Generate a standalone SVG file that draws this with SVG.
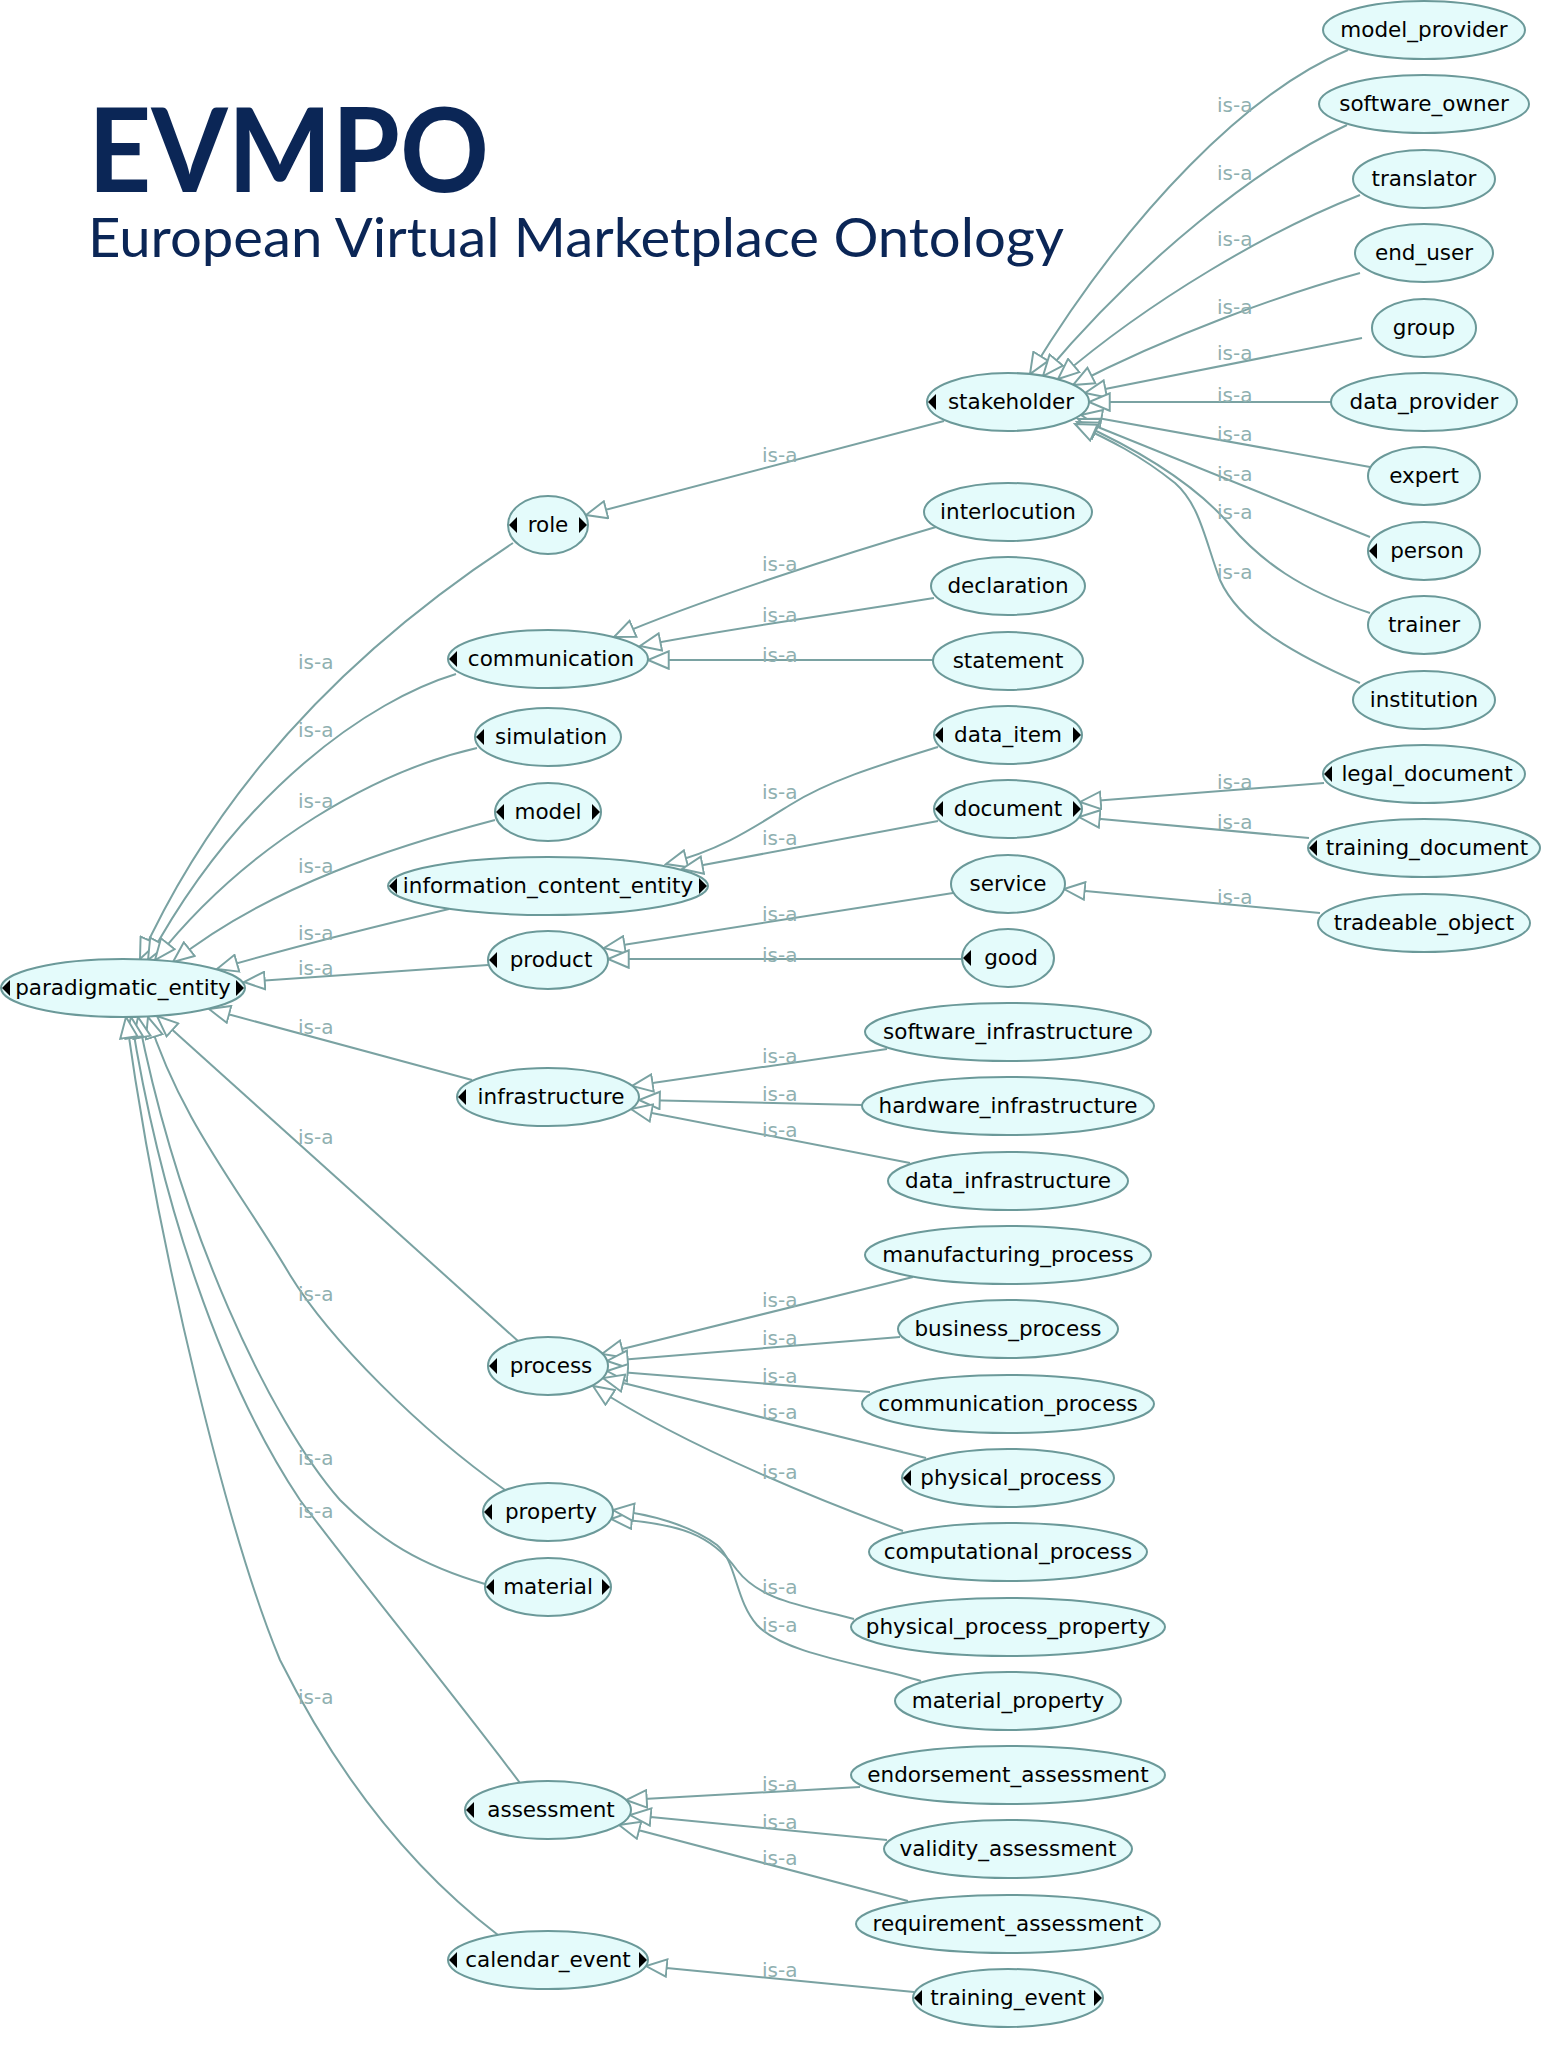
<svg xmlns="http://www.w3.org/2000/svg" xmlns:xlink="http://www.w3.org/1999/xlink" width="1562" height="2048" viewBox="0 0 1562 2048">
<style>
.n ellipse{fill:#e4fbfb;stroke:#6b9999;stroke-width:2}
.n text{font-family:"DejaVu Sans",Verdana,sans-serif;font-size:21.5px;fill:#000;text-anchor:middle}
.t{fill:#000}
.e path{fill:none;stroke:#7aa2a2;stroke-width:2;marker-end:url(#arr)}
.l text{font-family:"DejaVu Sans",Verdana,sans-serif;font-size:20px;fill:#8fb0b0}
.title{font-family:Lato,"Open Sans",sans-serif;fill:#0b2656}
</style>
<defs>
<marker id="arr" markerUnits="userSpaceOnUse" markerWidth="24" markerHeight="20" refX="19" refY="8" orient="auto" viewBox="-1 -1 22 18">
<path d="M0,0 L19,8 L0,16 Z" fill="#fff" stroke="#7aa2a2" stroke-width="1.8"/>
</marker>
<path id="tl" class="t" d="M0,0 L8,-8 L8,8 Z"/>
<path id="tr" class="t" d="M0,0 L-8,-8 L-8,8 Z"/>
</defs>
<rect width="1562" height="2048" fill="#fff"/>
<g id="title">
<text class="title" x="88" y="192" font-size="117" font-weight="700" textLength="401" lengthAdjust="spacingAndGlyphs">EVMPO</text>
<text class="title" x="88" y="257" font-size="55" textLength="976" lengthAdjust="spacingAndGlyphs">European Virtual Marketplace Ontology</text>
</g>
<g id="connectors" class="e">
<path d="M1348,50 C1250,90 1130,210 1030,374"/>
<path d="M1347,125 C1260,165 1140,260 1043,376"/>
<path d="M1360,195 C1270,230 1150,300 1058,379"/>
<path d="M1360,273 C1280,295 1170,335 1073,385"/>
<path d="M1362,338 L1085,393"/>
<path d="M1332,402 L1089,402"/>
<path d="M1370,467 L1081,415"/>
<path d="M1370,537 L1078,419"/>
<path d="M1370,613 C1300,590 1260,560 1230,525 C1200,490 1150,455 1077,422"/>
<path d="M1360,683 C1300,657 1240,625 1220,580 C1205,540 1200,505 1175,483 C1140,455 1110,440 1075,424"/>
<path d="M944,421 L586,515"/>
<path d="M936,527 C850,552 700,600 614,637"/>
<path d="M934,598 C850,612 720,630 640,646"/>
<path d="M933,660 L648,660"/>
<path d="M938,747 C880,765 830,780 790,805 C750,830 720,850 666,864"/>
<path d="M938,821 L682,869"/>
<path d="M953,893 L604,948"/>
<path d="M962,959 L608,959"/>
<path d="M887,1049 L632,1086"/>
<path d="M862,1105 L639,1100"/>
<path d="M910,1163 L631,1109"/>
<path d="M913,1277 L602,1354"/>
<path d="M900,1337 L607,1361"/>
<path d="M870,1392 L607,1371"/>
<path d="M926,1458 L603,1378"/>
<path d="M903,1531 C840,1508 690,1450 593,1386"/>
<path d="M854,1619 C800,1605 760,1600 737,1570 C712,1535 680,1523 611,1519"/>
<path d="M921,1681 C870,1665 785,1655 757,1625 C735,1600 737,1562 717,1545 C690,1525 650,1514 613,1510"/>
<path d="M860,1787 L626,1800"/>
<path d="M887,1840 L630,1815"/>
<path d="M908,1901 L619,1825"/>
<path d="M914,1992 L646,1966"/>
<path d="M1324,783 L1080,802"/>
<path d="M1309,838 L1079,817"/>
<path d="M1320,913 L1064,889"/>
<path d="M513,543 C380,630 230,760 140,959"/>
<path d="M456,674 C370,700 240,790 148,960"/>
<path d="M477,748 C380,770 250,840 155,960"/>
<path d="M495,820 C400,845 270,885 173,962"/>
<path d="M449,909 C360,930 300,945 217,969"/>
<path d="M488,965 L244,982"/>
<path d="M472,1080 L209,1009"/>
<path d="M518,1341 L157,1016"/>
<path d="M505,1490 C420,1430 330,1340 290,1275 C240,1190 180,1120 148,1017"/>
<path d="M485,1584 C420,1565 380,1540 340,1500 C270,1420 180,1230 138,1017"/>
<path d="M520,1783 C450,1690 360,1580 300,1500 C220,1380 160,1200 131,1017"/>
<path d="M498,1935 C400,1860 330,1760 280,1660 C230,1540 160,1260 126,1017"/>
</g>
<g id="edge-labels" class="l">
<text x="1217" y="112">is-a</text><text x="1217" y="180">is-a</text><text x="1217" y="246">is-a</text>
<text x="1217" y="314">is-a</text><text x="1217" y="360">is-a</text><text x="1217" y="402">is-a</text>
<text x="1217" y="441">is-a</text><text x="1217" y="481">is-a</text><text x="1217" y="519">is-a</text>
<text x="1217" y="579">is-a</text><text x="1217" y="789">is-a</text><text x="1217" y="829">is-a</text>
<text x="1217" y="904">is-a</text>
<text x="762" y="462">is-a</text><text x="762" y="571">is-a</text><text x="762" y="622">is-a</text>
<text x="762" y="662">is-a</text><text x="762" y="799">is-a</text><text x="762" y="845">is-a</text>
<text x="762" y="921">is-a</text><text x="762" y="962">is-a</text><text x="762" y="1063">is-a</text>
<text x="762" y="1101">is-a</text><text x="762" y="1137">is-a</text><text x="762" y="1307">is-a</text>
<text x="762" y="1345">is-a</text><text x="762" y="1383">is-a</text><text x="762" y="1419">is-a</text>
<text x="762" y="1479">is-a</text><text x="762" y="1594">is-a</text><text x="762" y="1632">is-a</text>
<text x="762" y="1791">is-a</text><text x="762" y="1829">is-a</text><text x="762" y="1865">is-a</text>
<text x="762" y="1977">is-a</text>
<text x="298" y="669">is-a</text><text x="298" y="737">is-a</text><text x="298" y="808">is-a</text>
<text x="298" y="873">is-a</text><text x="298" y="940">is-a</text><text x="298" y="975">is-a</text>
<text x="298" y="1034">is-a</text><text x="298" y="1144">is-a</text><text x="298" y="1301">is-a</text>
<text x="298" y="1465">is-a</text><text x="298" y="1518">is-a</text><text x="298" y="1704">is-a</text>
</g>
<g id="paradigmatic_entity" class="n"><ellipse cx="123" cy="988" rx="122" ry="29"/><text x="123" y="995">paradigmatic_entity</text><use xlink:href="#tl" x="2" y="988"/><use xlink:href="#tr" x="244" y="988"/></g>
<g id="role" class="n"><ellipse cx="548" cy="525" rx="40" ry="29"/><text x="548" y="532">role</text><use xlink:href="#tl" x="509" y="525"/><use xlink:href="#tr" x="587" y="525"/></g>
<g id="communication" class="n"><ellipse cx="548" cy="659" rx="100" ry="29"/><text x="551" y="666">communication</text><use xlink:href="#tl" x="449" y="659"/></g>
<g id="simulation" class="n"><ellipse cx="548" cy="737" rx="73" ry="29"/><text x="551" y="744">simulation</text><use xlink:href="#tl" x="476" y="737"/></g>
<g id="model" class="n"><ellipse cx="548" cy="812" rx="53" ry="29"/><text x="548" y="819">model</text><use xlink:href="#tl" x="496" y="812"/><use xlink:href="#tr" x="600" y="812"/></g>
<g id="information_content_entity" class="n"><ellipse cx="548" cy="886" rx="160" ry="29"/><text x="548" y="893">information_content_entity</text><use xlink:href="#tl" x="389" y="886"/><use xlink:href="#tr" x="707" y="886"/></g>
<g id="product" class="n"><ellipse cx="548" cy="960" rx="60" ry="29"/><text x="551" y="967">product</text><use xlink:href="#tl" x="489" y="960"/></g>
<g id="infrastructure" class="n"><ellipse cx="548" cy="1097" rx="91" ry="29"/><text x="551" y="1104">infrastructure</text><use xlink:href="#tl" x="458" y="1097"/></g>
<g id="process" class="n"><ellipse cx="548" cy="1366" rx="60" ry="29"/><text x="551" y="1373">process</text><use xlink:href="#tl" x="489" y="1366"/></g>
<g id="property" class="n"><ellipse cx="548" cy="1512" rx="65" ry="29"/><text x="551" y="1519">property</text><use xlink:href="#tl" x="484" y="1512"/></g>
<g id="material" class="n"><ellipse cx="548" cy="1587" rx="63" ry="29"/><text x="548" y="1594">material</text><use xlink:href="#tl" x="486" y="1587"/><use xlink:href="#tr" x="610" y="1587"/></g>
<g id="assessment" class="n"><ellipse cx="548" cy="1810" rx="83" ry="29"/><text x="551" y="1817">assessment</text><use xlink:href="#tl" x="466" y="1810"/></g>
<g id="calendar_event" class="n"><ellipse cx="548" cy="1960" rx="100" ry="29"/><text x="548" y="1967">calendar_event</text><use xlink:href="#tl" x="449" y="1960"/><use xlink:href="#tr" x="647" y="1960"/></g>
<g id="stakeholder" class="n"><ellipse cx="1008" cy="402" rx="81" ry="29"/><text x="1011" y="409">stakeholder</text><use xlink:href="#tl" x="928" y="402"/></g>
<g id="interlocution" class="n"><ellipse cx="1008" cy="512" rx="84" ry="29"/><text x="1008" y="519">interlocution</text></g>
<g id="declaration" class="n"><ellipse cx="1008" cy="586" rx="77" ry="29"/><text x="1008" y="593">declaration</text></g>
<g id="statement" class="n"><ellipse cx="1008" cy="661" rx="75" ry="29"/><text x="1008" y="668">statement</text></g>
<g id="data_item" class="n"><ellipse cx="1008" cy="735" rx="74" ry="29"/><text x="1008" y="742">data_item</text><use xlink:href="#tl" x="935" y="735"/><use xlink:href="#tr" x="1081" y="735"/></g>
<g id="document" class="n"><ellipse cx="1008" cy="809" rx="74" ry="29"/><text x="1008" y="816">document</text><use xlink:href="#tl" x="935" y="809"/><use xlink:href="#tr" x="1081" y="809"/></g>
<g id="service" class="n"><ellipse cx="1008" cy="884" rx="57" ry="29"/><text x="1008" y="891">service</text></g>
<g id="good" class="n"><ellipse cx="1008" cy="958" rx="46" ry="29"/><text x="1011" y="965">good</text><use xlink:href="#tl" x="963" y="958"/></g>
<g id="software_infrastructure" class="n"><ellipse cx="1008" cy="1032" rx="143" ry="29"/><text x="1008" y="1039">software_infrastructure</text></g>
<g id="hardware_infrastructure" class="n"><ellipse cx="1008" cy="1106" rx="146" ry="29"/><text x="1008" y="1113">hardware_infrastructure</text></g>
<g id="data_infrastructure" class="n"><ellipse cx="1008" cy="1181" rx="120" ry="29"/><text x="1008" y="1188">data_infrastructure</text></g>
<g id="manufacturing_process" class="n"><ellipse cx="1008" cy="1255" rx="143" ry="29"/><text x="1008" y="1262">manufacturing_process</text></g>
<g id="business_process" class="n"><ellipse cx="1008" cy="1329" rx="110" ry="29"/><text x="1008" y="1336">business_process</text></g>
<g id="communication_process" class="n"><ellipse cx="1008" cy="1404" rx="146" ry="29"/><text x="1008" y="1411">communication_process</text></g>
<g id="physical_process" class="n"><ellipse cx="1008" cy="1478" rx="106" ry="29"/><text x="1011" y="1485">physical_process</text><use xlink:href="#tl" x="903" y="1478"/></g>
<g id="computational_process" class="n"><ellipse cx="1008" cy="1552" rx="139" ry="29"/><text x="1008" y="1559">computational_process</text></g>
<g id="physical_process_property" class="n"><ellipse cx="1008" cy="1627" rx="157" ry="29"/><text x="1008" y="1634">physical_process_property</text></g>
<g id="material_property" class="n"><ellipse cx="1008" cy="1701" rx="113" ry="29"/><text x="1008" y="1708">material_property</text></g>
<g id="endorsement_assessment" class="n"><ellipse cx="1008" cy="1775" rx="157" ry="29"/><text x="1008" y="1782">endorsement_assessment</text></g>
<g id="validity_assessment" class="n"><ellipse cx="1008" cy="1849" rx="124" ry="29"/><text x="1008" y="1856">validity_assessment</text></g>
<g id="requirement_assessment" class="n"><ellipse cx="1008" cy="1924" rx="152" ry="29"/><text x="1008" y="1931">requirement_assessment</text></g>
<g id="training_event" class="n"><ellipse cx="1008" cy="1998" rx="95" ry="29"/><text x="1008" y="2005">training_event</text><use xlink:href="#tl" x="914" y="1998"/><use xlink:href="#tr" x="1102" y="1998"/></g>
<g id="model_provider" class="n"><ellipse cx="1424" cy="30" rx="101" ry="29"/><text x="1424" y="37">model_provider</text></g>
<g id="software_owner" class="n"><ellipse cx="1424" cy="104" rx="105" ry="29"/><text x="1424" y="111">software_owner</text></g>
<g id="translator" class="n"><ellipse cx="1424" cy="179" rx="71" ry="29"/><text x="1424" y="186">translator</text></g>
<g id="end_user" class="n"><ellipse cx="1424" cy="253" rx="69" ry="29"/><text x="1424" y="260">end_user</text></g>
<g id="group" class="n"><ellipse cx="1424" cy="328" rx="52" ry="29"/><text x="1424" y="335">group</text></g>
<g id="data_provider" class="n"><ellipse cx="1424" cy="402" rx="93" ry="29"/><text x="1424" y="409">data_provider</text></g>
<g id="expert" class="n"><ellipse cx="1424" cy="476" rx="56" ry="29"/><text x="1424" y="483">expert</text></g>
<g id="person" class="n"><ellipse cx="1424" cy="551" rx="56" ry="29"/><text x="1427" y="558">person</text><use xlink:href="#tl" x="1369" y="551"/></g>
<g id="trainer" class="n"><ellipse cx="1424" cy="625" rx="56" ry="29"/><text x="1424" y="632">trainer</text></g>
<g id="institution" class="n"><ellipse cx="1424" cy="700" rx="71" ry="29"/><text x="1424" y="707">institution</text></g>
<g id="legal_document" class="n"><ellipse cx="1424" cy="774" rx="101" ry="29"/><text x="1427" y="781">legal_document</text><use xlink:href="#tl" x="1324" y="774"/></g>
<g id="training_document" class="n"><ellipse cx="1424" cy="848" rx="116" ry="29"/><text x="1427" y="855">training_document</text><use xlink:href="#tl" x="1309" y="848"/></g>
<g id="tradeable_object" class="n"><ellipse cx="1424" cy="923" rx="106" ry="29"/><text x="1424" y="930">tradeable_object</text></g>
</svg>
